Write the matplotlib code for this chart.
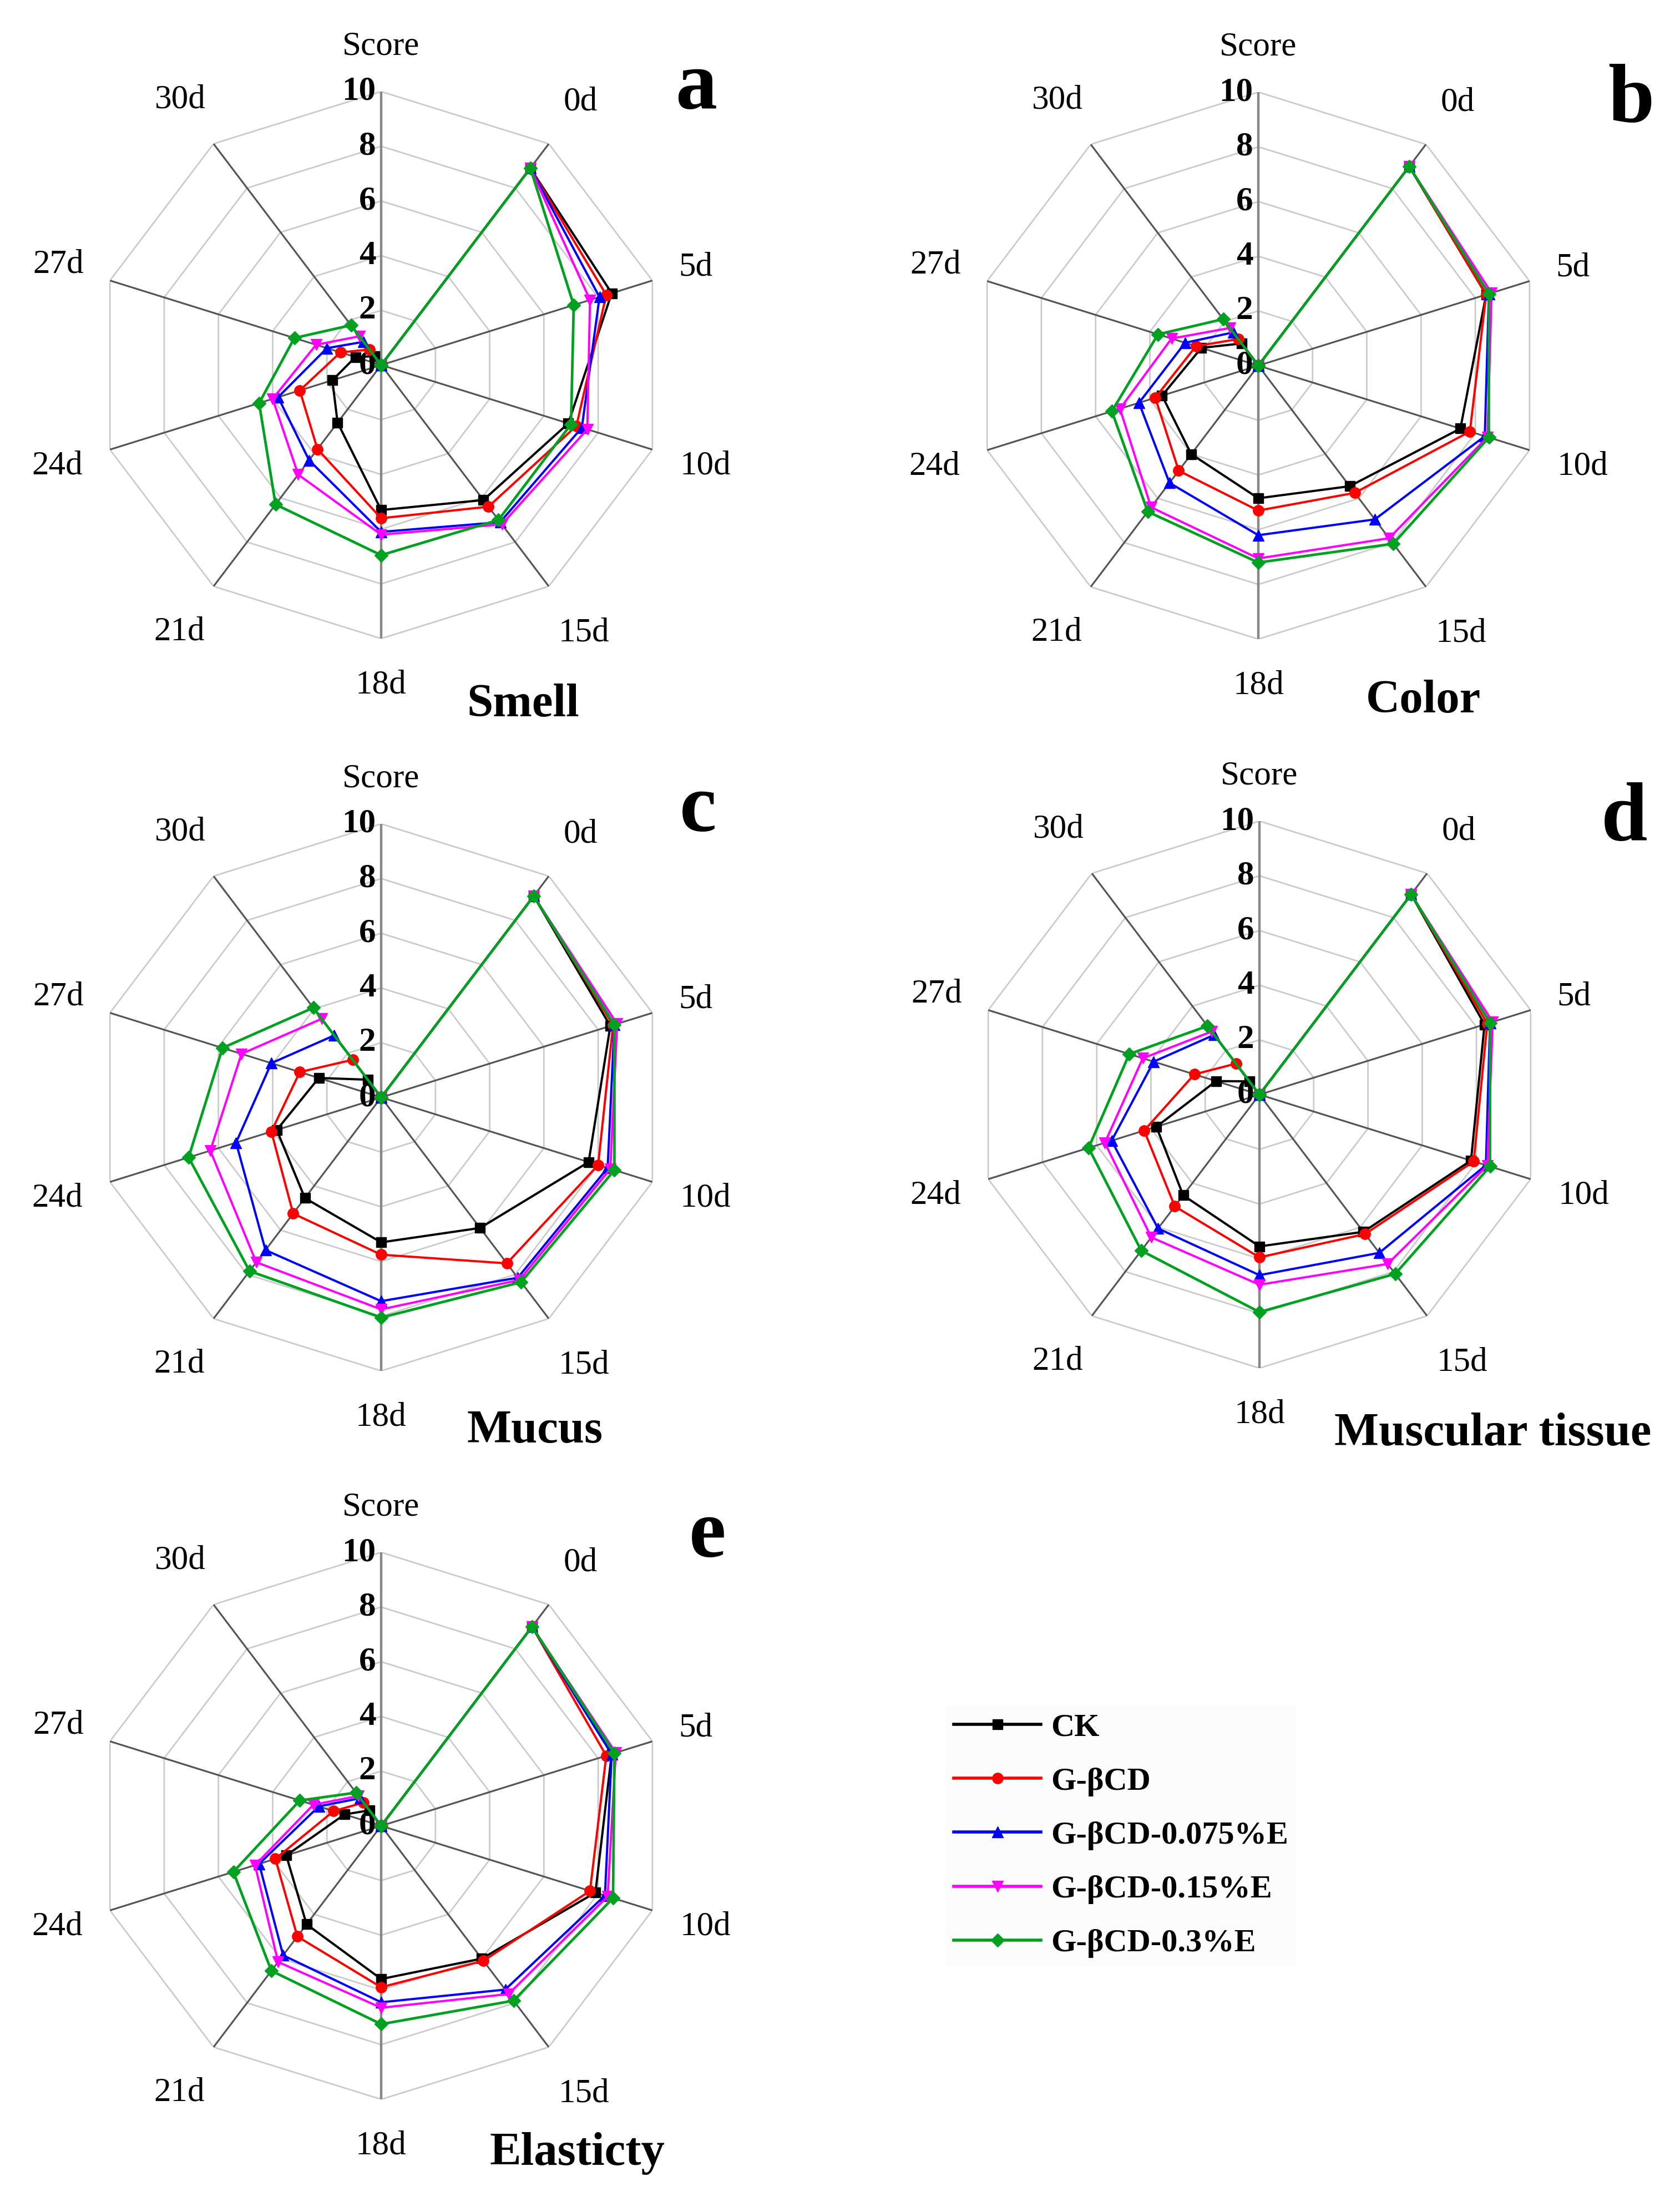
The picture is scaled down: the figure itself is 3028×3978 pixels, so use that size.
import numpy as np
import matplotlib
matplotlib.use("Agg")
import matplotlib.pyplot as plt

plt.rcParams['font.family'] = ['Liberation Serif', 'DejaVu Serif']

# ---------------- data ----------------
categories = ["Score", "0d", "5d", "10d", "15d", "18d", "21d", "24d", "27d", "30d"]
series_names = ["CK", "G-\u03b2CD", "G-\u03b2CD-0.075%E", "G-\u03b2CD-0.15%E", "G-\u03b2CD-0.3%E"]
score_ticks = [0, 2, 4, 6, 8, 10]

# values per series on the spokes: Score(=0), 0d, 5d, 10d, 15d, 18d, 21d, 24d, 27d, 30d
smell = [
    [0, 8.9, 8.5, 6.9, 6.1, 5.3, 2.6, 1.8, 0.95, 0.4],
    [0, 8.9, 8.3, 7.2, 6.4, 5.6, 3.8, 3.0, 1.5, 0.7],
    [0, 8.9, 8.05, 7.4, 7.1, 6.1, 4.3, 3.8, 2.0, 1.05],
    [0, 8.9, 7.7, 7.6, 7.2, 6.2, 4.95, 4.0, 2.4, 1.3],
    [0, 8.9, 7.1, 7.0, 7.0, 6.95, 6.3, 4.5, 3.2, 1.8],
]
color_score = [
    [0, 9.0, 8.4, 7.45, 5.45, 4.85, 4.0, 3.55, 2.1, 1.0],
    [0, 9.0, 8.4, 7.8, 5.75, 5.3, 4.75, 3.8, 2.3, 1.2],
    [0, 9.0, 8.5, 8.35, 6.95, 6.2, 5.3, 4.4, 2.7, 1.5],
    [0, 9.0, 8.6, 8.45, 7.8, 7.05, 6.4, 5.1, 3.2, 1.7],
    [0, 9.0, 8.5, 8.5, 8.05, 7.2, 6.6, 5.4, 3.7, 2.1],
]
mucus = [
    [0, 9.1, 8.45, 7.65, 5.9, 5.3, 4.55, 3.85, 2.3, 0.8],
    [0, 9.1, 8.55, 8.0, 7.5, 5.75, 5.25, 4.05, 3.0, 1.7],
    [0, 9.1, 8.6, 8.35, 8.15, 7.45, 6.9, 5.35, 4.05, 2.8],
    [0, 9.1, 8.7, 8.45, 8.25, 7.75, 7.45, 6.3, 5.15, 3.55],
    [0, 9.1, 8.6, 8.6, 8.35, 8.05, 7.85, 7.1, 5.85, 4.05],
]
muscular = [
    [0, 9.05, 8.3, 7.8, 6.2, 5.55, 4.55, 3.8, 1.6, 0.6],
    [0, 9.05, 8.4, 7.9, 6.3, 5.95, 5.05, 4.25, 2.4, 1.4],
    [0, 9.05, 8.5, 8.35, 7.15, 6.6, 6.05, 5.45, 3.9, 2.7],
    [0, 9.05, 8.6, 8.4, 7.65, 6.95, 6.45, 5.7, 4.3, 2.85],
    [0, 9.05, 8.5, 8.5, 8.1, 7.95, 7.05, 6.3, 4.8, 3.1],
]
elasticity = [
    [0, 9.0, 8.5, 7.9, 6.0, 5.6, 4.45, 3.5, 1.35, 0.7],
    [0, 9.0, 8.3, 7.7, 6.1, 5.9, 5.0, 3.9, 1.75, 1.05],
    [0, 9.0, 8.5, 8.25, 7.4, 6.45, 5.85, 4.5, 2.3, 1.25],
    [0, 9.0, 8.65, 8.35, 7.6, 6.65, 6.15, 4.65, 2.5, 1.35],
    [0, 9.0, 8.6, 8.55, 7.9, 7.25, 6.55, 5.45, 3.0, 1.5],
]

# ---------------- style ----------------
colors = ["#000000", "#ff0000", "#0000ff", "#ff00ff", "#00a020"]
markers = ["s", "o", "^", "v", "D"]
msizes = [13, 14, 15, 15, 12]
label_r = [11.65, 11.9, 11.6, 11.95, 12.1, 11.7, 12.05, 11.95, 11.9, 12.0]

W, H = 3028, 3978
RX, RY = 514, 493
fig = plt.figure(figsize=(W / 100, H / 100), dpi=100)

panels = [
    ("a", "Smell", smell, (687, 658), (1255, 195), (943, 1291)),
    ("b", "Color", color_score, (2268, 659), (2940, 220), (2565, 1284)),
    ("c", "Mucus", mucus, (687, 1978), (1258, 1498), (964, 2600)),
    ("d", "Muscular tissue", muscular, (2270, 1973), (2928, 1515), (2691, 2605)),
    ("e", "Elasticty", elasticity, (687, 3291), (1275, 2806), (1041, 3902)),
]

theta = np.deg2rad(np.arange(len(categories)) * 360.0 / len(categories))
closed = np.append(theta, theta[0])
handles = None

for letter, title, data, (cx, cy), (lx, ly), (tx, ty) in panels:
    ax = fig.add_axes([(cx - RX) / W, (H - cy - RY) / H, 2 * RX / W, 2 * RY / H],
                      projection='polar')
    ax.set_aspect('auto')
    ax.set_theta_zero_location('N')
    ax.set_theta_direction(-1)
    ax.grid(False)
    ax.set_xticks([])
    ax.set_yticks([])
    ax.spines['polar'].set_visible(False)
    ax.patch.set_visible(False)

    for lev in score_ticks[1:]:
        ax.plot(closed, [lev] * len(closed), color='#cbcbcb', lw=2.0, zorder=1,
                solid_joinstyle='miter')
    for i, t in enumerate(theta):
        if i in (0, 5):
            ax.plot([t, t], [0, 10], color='#888888', lw=3.2, zorder=2)
        else:
            ax.plot([t, t], [0, 10], color='#555555', lw=2.3, zorder=2)

    hs = []
    for k, (vals, c, m, ms, name) in enumerate(zip(data, colors, markers, msizes, series_names)):
        v = np.append(vals, vals[0])
        lw = 3.4 if k == 4 else 2.9
        h, = ax.plot(closed, v, color=c, lw=lw, marker=m, ms=ms, mec=c, mfc=c,
                     label=name, zorder=3 + k, clip_on=False)
        hs.append(h)
    if handles is None:
        handles = hs

    for lev in score_ticks:
        ax.annotate(str(lev), xy=(0, lev), xytext=(-7, 0), textcoords='offset points',
                    ha='right', va='center', fontsize=44, fontweight='bold', zorder=2.5)
    for t, cat, r in zip(theta, categories, label_r):
        ax.text(t, r, cat, ha='center', va='center', fontsize=44)
    ax.set_ylim(0, 10)

    fig.text(lx / W, 1 - ly / H, letter, ha='center', va='baseline',
             fontsize=108, fontweight='bold')
    fig.text(tx / W, 1 - ty / H, title, ha='center', va='baseline',
             fontsize=61, fontweight='bold')

leg = fig.legend(handles, series_names, loc='upper left',
                 bbox_to_anchor=(1675 / W, 1 - 3044 / H),
                 frameon=True, fancybox=False, facecolor='#fcfcfc', edgecolor='none',
                 framealpha=1, prop=dict(weight='bold', size=42),
                 handlelength=2.7, handletextpad=0.3, labelspacing=0.76,
                 borderpad=0.25, numpoints=1)
for ln in leg.get_lines():
    ln.set_linewidth(4.0)

fig.savefig("out.png", dpi=100, facecolor='white')
